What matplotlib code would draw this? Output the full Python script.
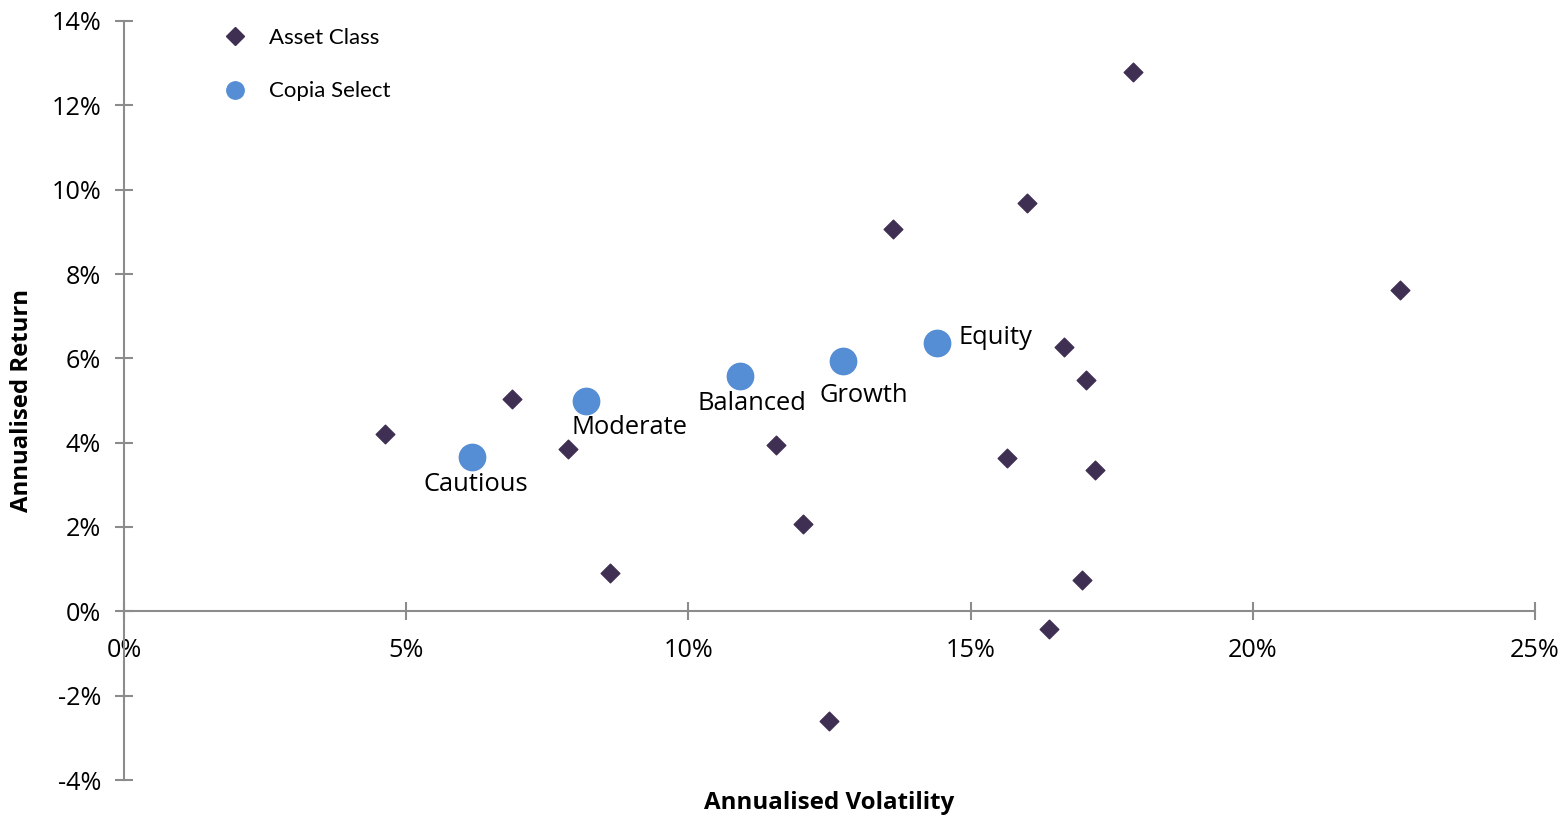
import numpy as np
import matplotlib.pyplot as plt
from matplotlib.ticker import FuncFormatter
from matplotlib.lines import Line2D

plt.rcParams['font.family'] = ['Open Sans', 'DejaVu Sans']

# asset class points (volatility %, return %)
asset_vol = [4.62, 6.87, 7.87, 8.61, 11.55, 12.03, 12.49, 13.62, 15.64, 16.00,
             16.39, 16.65, 16.97, 17.04, 17.20, 17.88, 22.61]
asset_ret = [4.20, 5.03, 3.84, 0.90, 3.94, 2.06, -2.61, 9.06, 3.63, 9.68,
             -0.43, 6.28, 0.74, 5.48, 3.34, 12.78, 7.61]

# Copia Select portfolios
port_names = ['Cautious', 'Moderate', 'Balanced', 'Growth', 'Equity']
port_vol = [6.17, 8.19, 10.91, 12.74, 14.40]
port_ret = [3.65, 4.98, 5.57, 5.93, 6.36]
label_offsets = [(4, -27), (43, -26), (12, -27), (21, -34), (59, 6)]

fig = plt.figure(figsize=(15.65, 8.17), dpi=100)
ax = fig.add_axes([124/1565, 1-780/817, (1535-124)/1565, (780-21)/817])

ax.scatter(asset_vol, asset_ret, marker='D', s=90, color='#3F2F52', zorder=3)
ax.scatter(port_vol, port_ret, marker='o', s=360, color='#558ED5', zorder=4)

for name, x, y, off in zip(port_names, port_vol, port_ret, label_offsets):
    ax.annotate(name, (x, y), xytext=off, textcoords='offset pixels',
                ha='center', va='center', fontsize=18.4, color='black')

ax.set_xlim(0, 25)
ax.set_ylim(-4, 14)
ax.set_xticks(np.arange(0, 26, 5))
ax.set_yticks(np.arange(-4, 15, 2))
pct = FuncFormatter(lambda v, p: '%d%%' % v)
ax.xaxis.set_major_formatter(pct)
ax.yaxis.set_major_formatter(pct)

for side in ['top', 'right']:
    ax.spines[side].set_visible(False)
ax.spines['bottom'].set_position(('data', 0))
ax.spines['left'].set_position(('data', 0))
for side in ['bottom', 'left']:
    ax.spines[side].set_color('#8C8C8C')
    ax.spines[side].set_linewidth(1.5)

ax.tick_params(axis='both', direction='inout', length=13, width=1.5,
               color='#8C8C8C', labelsize=18.2)
ax.tick_params(axis='x', pad=13)
ax.tick_params(axis='y', pad=10)

fig.text(829/1565, 1-803/817, 'Annualised Volatility', ha='center', va='center',
         fontsize=17.4, fontweight='bold')
fig.text(22/1565, 1-401/817, 'Annualised Return', ha='center', va='center',
         rotation=90, fontsize=17.2, fontweight='bold')

handles = [Line2D([], [], marker='D', ls='', color='#3F2F52', markersize=9.5),
           Line2D([], [], marker='o', ls='', color='#558ED5', markersize=12.5)]
fig.legend(handles, ['Asset Class', 'Copia Select'], loc='upper left',
           bbox_to_anchor=(193/1565, 1-8/817), frameon=False, labelspacing=1.5,
           handletextpad=0.5, prop={'family': 'Lato', 'size': 16})

fig.savefig('out.png', dpi=100)
